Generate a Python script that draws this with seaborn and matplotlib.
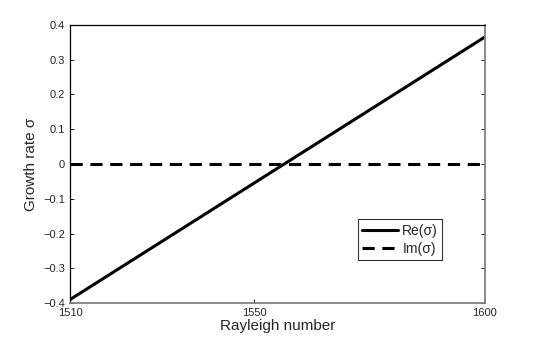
import matplotlib
matplotlib.use("Agg")
import matplotlib.pyplot as plt
import seaborn as sns
import pandas as pd

rayleigh = [1510, 1600]
re_sigma = [-0.39, 0.365]
im_sigma = [0.0, 0.0]
x_ticks = [1510, 1550, 1600]
y_ticks = [-0.4, -0.3, -0.2, -0.1, 0, 0.1, 0.2, 0.3, 0.4]
y_labels = ["\u22120.4", "\u22120.3", "\u22120.2", "\u22120.1", "0", "0.1", "0.2", "0.3", "0.4"]

sns.set_theme(style="white")
plt.rcParams['font.family'] = ['Liberation Sans', 'DejaVu Sans']

df = pd.DataFrame({"Ra": rayleigh * 2,
                   "sigma": re_sigma + im_sigma,
                   "part": ["Re(\u03c3)"] * 2 + ["Im(\u03c3)"] * 2})

fig = plt.figure(figsize=(5.35, 3.42), dpi=100)
ax = fig.add_axes([0.131, 0.114, 0.775, 0.813])
sns.lineplot(data=df, x="Ra", y="sigma", hue="part", style="part",
             palette=["black", "black"], dashes=[(None, None), (4, 2.5)],
             linewidth=2.2, ax=ax)
ax.set_xlim(1510, 1600)
ax.set_ylim(-0.4, 0.4)
ax.set_xticks(x_ticks)
ax.set_xticklabels([str(t) for t in x_ticks], fontsize=8)
ax.set_yticks(y_ticks)
ax.set_yticklabels(y_labels, fontsize=8)
ax.tick_params(direction="in", length=3, width=0.6, color="black",
               left=True, bottom=True, right=True, top=False, pad=3.5)
ax.set_xlabel("Rayleigh number", fontsize=11, labelpad=1)
ax.set_ylabel("Growth rate \u03c3", fontsize=11, labelpad=4)
for side in ["left", "top"]:
    ax.spines[side].set_color("black")
    ax.spines[side].set_linewidth(0.9)
for side in ["right", "bottom"]:
    ax.spines[side].set_color("#808080")
    ax.spines[side].set_linewidth(1.3)
leg = ax.legend(loc="lower left", bbox_to_anchor=(0.694, 0.155), fontsize=10,
                frameon=True, fancybox=False, handlelength=2.6,
                borderpad=0.3, labelspacing=0.3, handletextpad=0.3,
                borderaxespad=0)
leg.get_frame().set_edgecolor("black")
leg.get_frame().set_linewidth(0.8)
fig.savefig("out.png", dpi=100)
